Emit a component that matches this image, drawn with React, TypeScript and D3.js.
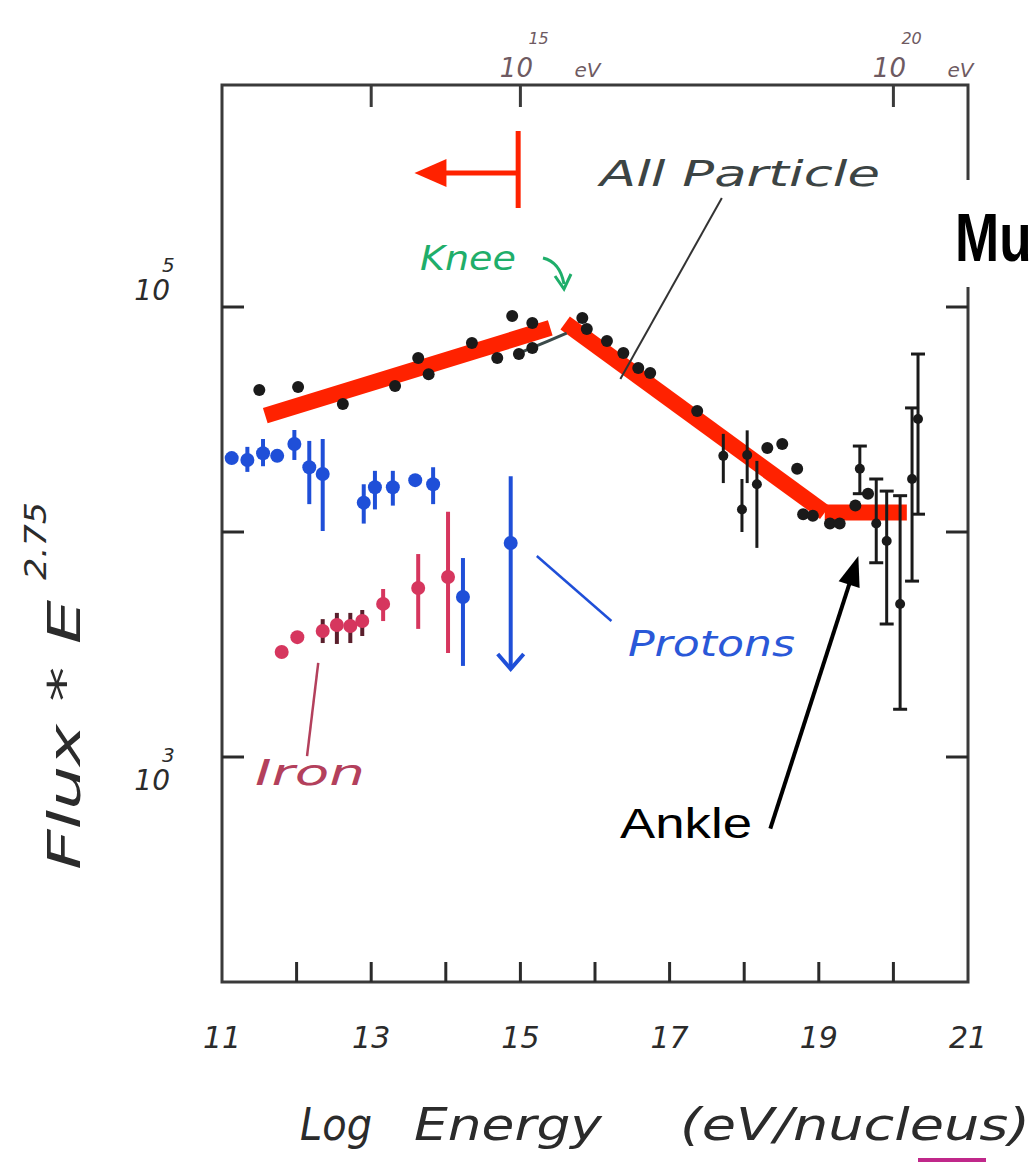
import React from 'react';
import * as d3 from 'd3';

// log10(E) values for ticks / labels
const bottomTicks = [12, 13, 14, 15, 16, 17, 18, 19, 20];
const bottomLabels = [11, 13, 15, 17, 19, 21];
const topTicks = [13, 15, 20];
const topLabels = [15, 20];
const sideTicks = [1e3, 1e4, 1e5];
const sideLabels = [1e5, 1e3];

// all particle, plain dots: [logE, flux*E^2.75]
const allEnergy = [11.5, 12.02, 12.62, 13.32, 13.63, 13.77, 14.35, 14.69, 14.89, 14.98, 15.16, 15.16, 15.83, 15.89, 16.16, 16.38, 16.58, 16.74, 17.37, 18.31, 18.51, 18.71, 18.79, 18.92, 19.15, 19.28, 19.49, 19.66];
const allFlux = [42800, 44100, 37100, 44600, 59300, 50300, 69200, 59300, 91200, 61800, 84900, 65800, 89300, 79800, 70600, 62500, 53600, 50900, 34500, 23600, 24600, 19100, 12000, 11800, 10900, 10900, 13100, 14800];

// all particle with error bars
const errEnergy = [17.72, 18.04, 17.97, 18.17, 19.55, 19.77, 19.91, 20.09, 20.25, 20.33];
const errFlux = [21800, 22000, 12600, 16300, 19100, 10900, 9120, 4790, 17200, 31800];
const errHigh = [27300, 28300, 17200, 20700, 24100, 17200, 15200, 14500, 35600, 61800];
const errLow = [16500, 16500, 10000, 8500, 14800, 7300, 3900, 1630, 6050, 12000];
const errCapped = [false, false, false, false, true, true, true, true, true, true];

// short all-particle curve near the knee
const curveEnergy = [14.99, 15.37, 15.62];
const curveFlux = [62500, 70600, 76600];

// protons
const pEnergy = [11.13, 11.34, 11.55, 11.74, 11.97, 12.17, 12.35, 12.9, 13.05, 13.29, 13.59, 13.83, 14.23, 14.87];
const pFlux = [21300, 20900, 22400, 21800, 24600, 19400, 18100, 13500, 15800, 15800, 17000, 16300, 5140, 8930];
const pHigh = [21300, 23900, 25900, 21800, 28400, 25400, 25900, 16300, 18700, 18700, 17000, 19400, 7660, 17700];
const pLow = [21300, 18500, 19600, 21800, 20900, 13300, 10100, 10900, 12600, 13100, 17000, 13300, 2540, 2460];

// iron
const feEnergy = [11.8, 12.01, 12.35, 12.54, 12.72, 12.88, 13.16, 13.63, 14.03];
const feFlux = [2930, 3410, 3630, 3860, 3820, 4020, 4790, 5640, 6310];
const feHigh = [2930, 3410, 4100, 4370, 4370, 4500, 5580, 7980, 12300];
const feLow = [2930, 3410, 3210, 3180, 3210, 3450, 4020, 3710, 2900];

// broken power-law fit (red)
const fitSegments = [
  [[11.58, 32900], [15.4, 80700]],
  [[15.6, 84900], [19.08, 12200]],
  [[19.08, 12200], [20.18, 12200]],
];

// annotation anchors (data space)
const ankleArrow = { from: [18.35, 480], to: [19.53, 7820] };
const protonLine = { from: [15.22, 7820], to: [16.22, 4020] };
const ironLine = { from: [12.29, 2620], to: [12.14, 1010] };
const particleLine = { from: [17.7, 305000], to: [16.34, 47900] };
const cutMarker = { at: 14.97, flux: 394000, tip: 13.58 };

const W = 1036;
const H = 1168;
const left = 222, right = 968, top = 85, bottom = 982;

const hand = '"DejaVu Sans", sans-serif';
const RED = '#ff2200';
const BLUE = '#1f4fd8';
const IRON = '#d6365e';
const INK = '#2b2b2b';
const GREEN = '#1fae6a';

export default function App() {
  const x = d3.scaleLinear().domain([11, 21]).range([left, right]);
  const y = d3.scaleLog().domain([1e2, 1e6]).range([bottom, 82]);
  const line = d3.line<number[]>().x(d => x(d[0])).y(d => y(d[1]));
  const curve = d3.line<number>().x((_, i) => x(curveEnergy[i])).y((_, i) => y(curveFlux[i])).curve(d3.curveMonotoneX);

  const ax = x(ankleArrow.from[0]), ay = y(ankleArrow.from[1]);
  const bx = x(ankleArrow.to[0]), by = y(ankleArrow.to[1]);
  const ang = Math.atan2(by - ay, bx - ax);
  const head = (len: number, half: number) => {
    const px = bx - len * Math.cos(ang), py = by - len * Math.sin(ang);
    const nx = -Math.sin(ang) * half, ny = Math.cos(ang) * half;
    return `M${bx},${by}L${px + nx},${py + ny}L${px - nx},${py - ny}Z`;
  };

  const mx = x(cutMarker.at), my = y(cutMarker.flux), tipX = x(cutMarker.tip);
  // hand-lettered decade labels sit above the tick for 10^5, below it for 10^3
  const sideShift = (t: number) => (t < 1e4 ? 33 : -7);

  return (
    <div style={{ position: 'absolute', left: 0, top: 0, background: '#fff' }}>
      <svg width={W} height={H} style={{ display: 'block', background: '#fff' }}>
        {/* frame */}
        <rect x={left} y={top} width={right - left} height={bottom - top} fill="none" stroke="#3a3a3a" strokeWidth={3} />
        {bottomTicks.map(t => (
          <line key={'b' + t} x1={x(t)} x2={x(t)} y1={bottom} y2={bottom - 20} stroke="#2a2a2a" strokeWidth={3} />
        ))}
        {topTicks.map(t => (
          <line key={'t' + t} x1={x(t)} x2={x(t)} y1={top} y2={top + 22} stroke="#3a3a3a" strokeWidth={3} />
        ))}
        {sideTicks.map(t => (
          <g key={'s' + t}>
            <line x1={left} x2={left + 22} y1={y(t)} y2={y(t)} stroke="#2a2a2a" strokeWidth={3} />
            <line x1={right} x2={right - 22} y1={y(t)} y2={y(t)} stroke="#2a2a2a" strokeWidth={3} />
          </g>
        ))}

        {/* tick labels */}
        {bottomLabels.map(t => (
          <text key={'bl' + t} x={x(t)} y={1048} textAnchor="middle" fontFamily={hand} fontStyle="italic" fontSize={30} fill={INK}>{t}</text>
        ))}
        {topLabels.map(t => (
          <g key={'tl' + t} fontFamily={hand} fontStyle="italic" fill="#6e5a62">
            <text x={x(t) - 4} y={77} textAnchor="middle" fontSize={26}>10</text>
            <text x={x(t) + 8} y={44} fontSize={16}>{t}</text>
            <text x={x(t) + 54} y={77} fontSize={20}>eV</text>
          </g>
        ))}
        {sideLabels.map(t => (
          <g key={'sl' + t} fontFamily={hand} fontStyle="italic" fill={INK}>
            <text x={left - 52} y={y(t) + sideShift(t)} textAnchor="end" fontSize={28}>10</text>
            <text x={left - 60} y={y(t) + sideShift(t) - 28} fontSize={20}>{Math.round(Math.log10(t))}</text>
          </g>
        ))}

        {/* axis titles */}
        <g fontFamily={hand} fontStyle="italic" fontSize={44} fill={INK}>
          <text x={300} y={1140} textLength={72} lengthAdjust="spacingAndGlyphs">Log</text>
          <text x={414} y={1140} textLength={188} lengthAdjust="spacingAndGlyphs">Energy</text>
          <text x={680} y={1140} textLength={350} lengthAdjust="spacingAndGlyphs">(eV/nucleus)</text>
        </g>
        <line x1={918} x2={986} y1={1160} y2={1160} stroke="#c0288a" strokeWidth={4} />
        <g transform="translate(80,870) rotate(-90)" fontFamily={hand} fontStyle="italic" fill={INK}>
          <text x={0} y={0} fontSize={44} textLength={270} lengthAdjust="spacingAndGlyphs">Flux * E</text>
          <text x={290} y={-34} fontSize={30} textLength={78} lengthAdjust="spacingAndGlyphs">2.75</text>
        </g>

        {/* red fit */}
        {fitSegments.map((s, i) => (
          <path key={'f' + i} d={line(s as number[][]) || ''} stroke={RED} strokeWidth={16} fill="none" />
        ))}

        {/* all particle curve + dots */}
        <path d={curve(curveEnergy) || ''} stroke="#3b4a4a" strokeWidth={3} fill="none" />
        {errEnergy.map((e, i) => (
          <g key={'e' + i} stroke="#1a1a1a" strokeWidth={3}>
            <line x1={x(e)} x2={x(e)} y1={y(errHigh[i])} y2={y(errLow[i])} />
            {errCapped[i] && (
              <>
                <line x1={x(e) - 7} x2={x(e) + 7} y1={y(errHigh[i])} y2={y(errHigh[i])} />
                <line x1={x(e) - 7} x2={x(e) + 7} y1={y(errLow[i])} y2={y(errLow[i])} />
              </>
            )}
            <circle cx={x(e)} cy={y(errFlux[i])} r={5} fill="#1a1a1a" stroke="none" />
          </g>
        ))}
        {allEnergy.map((e, i) => (
          <circle key={'a' + i} cx={x(e)} cy={y(allFlux[i])} r={6} fill="#1a1a1a" />
        ))}

        {/* protons */}
        {pEnergy.map((e, i) => (
          <g key={'p' + i}>
            <line x1={x(e)} x2={x(e)} y1={y(pHigh[i])} y2={y(pLow[i])} stroke={BLUE} strokeWidth={4} />
            <circle cx={x(e)} cy={y(pFlux[i])} r={7} fill={BLUE} />
          </g>
        ))}
        <path
          d={`M${x(pEnergy[13]) - 13},${y(pLow[13]) - 15}L${x(pEnergy[13])},${y(pLow[13])}L${x(pEnergy[13]) + 13},${y(pLow[13]) - 15}`}
          stroke={BLUE} strokeWidth={4} fill="none"
        />

        {/* iron */}
        {feEnergy.map((e, i) => (
          <g key={'fe' + i}>
            <line x1={x(e)} x2={x(e)} y1={y(feHigh[i])} y2={y(feLow[i])} stroke={i >= 2 && i <= 5 ? '#5a1f2c' : IRON} strokeWidth={4} />
            <circle cx={x(e)} cy={y(feFlux[i])} r={7} fill={IRON} />
          </g>
        ))}

        {/* cut marker */}
        <g stroke={RED} strokeWidth={5}>
          <line x1={mx} x2={mx} y1={my - 42} y2={my + 35} />
          <line x1={tipX + 28} x2={mx} y1={my} y2={my} />
        </g>
        <path d={`M${tipX},${my}L${tipX + 32},${my - 14}L${tipX + 32},${my + 14}Z`} fill={RED} />

        {/* annotations */}
        <text x={600} y={186} fontFamily={hand} fontStyle="italic" fontSize={36} fill="#3c4444" textLength={280} lengthAdjust="spacingAndGlyphs">All  Particle</text>
        <line x1={x(particleLine.from[0])} y1={y(particleLine.from[1])} x2={x(particleLine.to[0])} y2={y(particleLine.to[1])} stroke="#333" strokeWidth={2} />
        <text x={420} y={270} fontFamily={hand} fontStyle="italic" fontSize={34} fill={GREEN} textLength={96} lengthAdjust="spacingAndGlyphs">Knee</text>
        <path d="M543,258 Q560,262 564,284 M555,276 L564,289 L571,274" stroke={GREEN} strokeWidth={3} fill="none" />

        <line x1={x(protonLine.from[0])} y1={y(protonLine.from[1])} x2={x(protonLine.to[0])} y2={y(protonLine.to[1])} stroke={BLUE} strokeWidth={2.5} />
        <text x={628} y={656} fontFamily={hand} fontStyle="italic" fontSize={36} fill="#2a58d8" textLength={167} lengthAdjust="spacingAndGlyphs">Protons</text>

        <line x1={x(ironLine.from[0])} y1={y(ironLine.from[1])} x2={x(ironLine.to[0])} y2={y(ironLine.to[1])} stroke="#b3405c" strokeWidth={2.5} />
        <text x={255} y={785} fontFamily={hand} fontStyle="italic" fontSize={36} fill="#b3405c" textLength={110} lengthAdjust="spacingAndGlyphs">Iron</text>

        <line x1={ax} y1={ay} x2={bx - 20 * Math.cos(ang)} y2={by - 20 * Math.sin(ang)} stroke="#000" strokeWidth={4} />
        <path d={head(30, 11)} fill="#000" />
        <text x={620} y={838} fontFamily='"Liberation Sans", Arial, sans-serif' fontSize={43} fill="#000" textLength={132} lengthAdjust="spacingAndGlyphs">Ankle</text>

        {/* overlaid slide title fragment */}
        <rect x={932} y={180} width={W - 932} height={107} fill="#fff" />
        <text x={955} y={261} fontFamily='"Liberation Sans", Arial, sans-serif' fontWeight="bold" fontSize={68} fill="#000" transform="translate(955,0) scale(0.78,1) translate(-955,0)">Mu</text>
      </svg>
    </div>
  );
}
